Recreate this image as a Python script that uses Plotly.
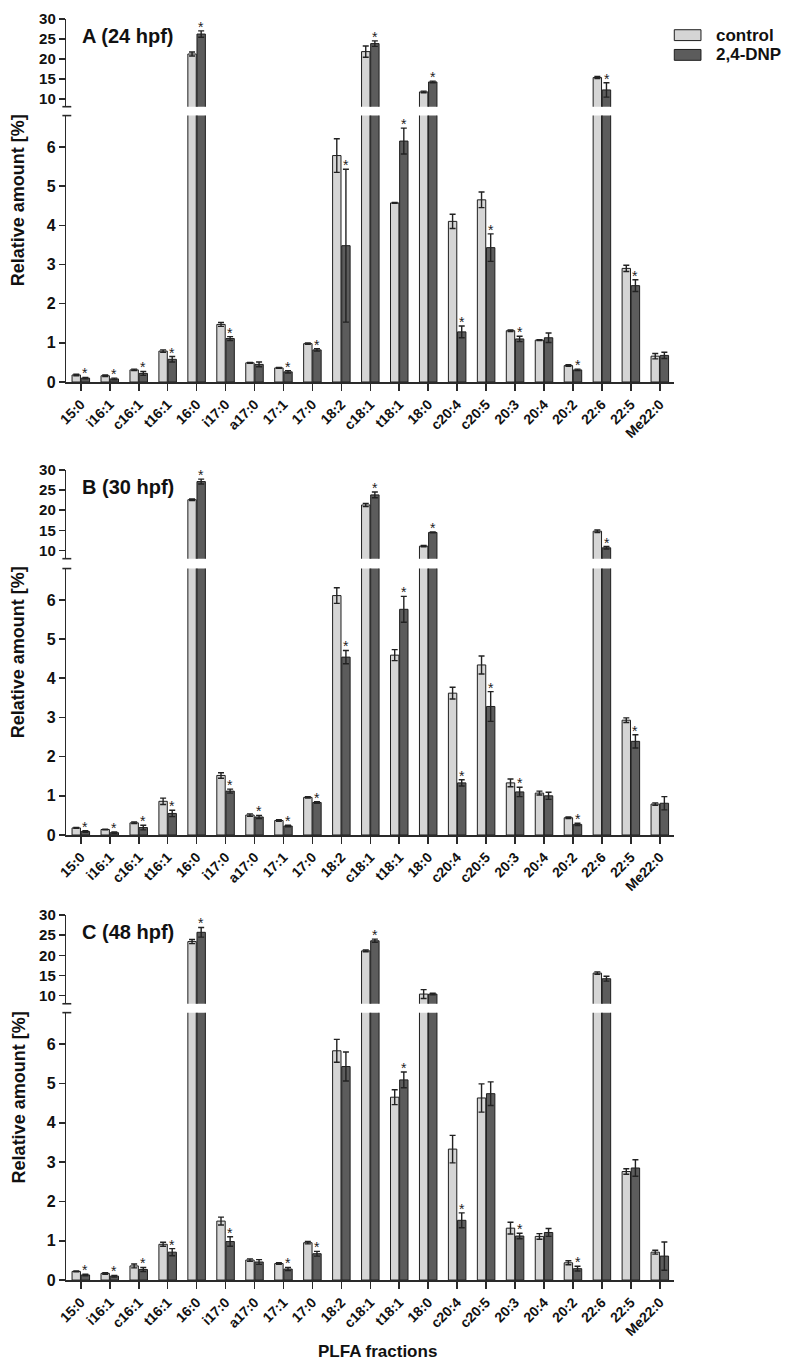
import plotly.graph_objects as go

categories = ["15:0", "i16:1", "c16:1", "t16:1", "16:0", "i17:0", "a17:0", "17:1", "17:0", "18:2",
              "c18:1", "t18:1", "18:0", "c20:4", "c20:5", "20:3", "20:4", "20:2", "22:6", "22:5", "Me22:0"]

# Panel A (24 hpf)
a_control = [0.18, 0.16, 0.31, 0.79, 21.2, 1.47, 0.49, 0.36, 0.98, 5.78, 21.8, 4.57, 11.7, 4.10, 4.65, 1.31, 1.07, 0.42, 15.3, 2.90, 0.66]
a_control_err = [0.02, 0.02, 0.02, 0.03, 0.5, 0.05, 0.01, 0.01, 0.02, 0.43, 1.4, 0.01, 0.2, 0.18, 0.2, 0.02, 0.01, 0.02, 0.25, 0.08, 0.07]
a_dnp = [0.10, 0.08, 0.22, 0.58, 26.2, 1.11, 0.45, 0.26, 0.82, 3.48, 23.8, 6.15, 14.2, 1.28, 3.43, 1.10, 1.13, 0.31, 12.2, 2.46, 0.68]
a_dnp_err = [0.02, 0.02, 0.05, 0.07, 0.8, 0.05, 0.06, 0.03, 0.03, 1.95, 0.7, 0.33, 0.2, 0.15, 0.35, 0.07, 0.12, 0.02, 1.8, 0.15, 0.08]
a_sig = [1, 1, 1, 1, 1, 1, 0, 1, 1, 1, 1, 1, 1, 1, 1, 1, 0, 1, 1, 1, 0]

# Panel B (30 hpf)
b_control = [0.18, 0.14, 0.31, 0.86, 22.6, 1.52, 0.51, 0.37, 0.96, 6.11, 21.3, 4.59, 11.1, 3.62, 4.34, 1.33, 1.07, 0.44, 14.8, 2.93, 0.79]
b_control_err = [0.01, 0.01, 0.02, 0.08, 0.2, 0.07, 0.03, 0.02, 0.02, 0.2, 0.4, 0.14, 0.15, 0.15, 0.23, 0.1, 0.05, 0.02, 0.3, 0.06, 0.03]
b_dnp = [0.09, 0.06, 0.19, 0.55, 27.1, 1.12, 0.46, 0.23, 0.83, 4.54, 23.8, 5.76, 14.5, 1.33, 3.28, 1.10, 1.00, 0.27, 10.7, 2.39, 0.81]
b_dnp_err = [0.02, 0.02, 0.06, 0.08, 0.6, 0.05, 0.04, 0.02, 0.02, 0.17, 0.7, 0.33, 0.1, 0.08, 0.38, 0.12, 0.09, 0.03, 0.3, 0.17, 0.17]
b_sig = [1, 1, 1, 1, 1, 1, 1, 1, 1, 1, 1, 1, 1, 1, 1, 1, 0, 1, 1, 1, 0]

# Panel C (48 hpf)
c_control = [0.22, 0.17, 0.36, 0.91, 23.4, 1.50, 0.51, 0.42, 0.95, 5.83, 21.1, 4.65, 10.4, 3.33, 4.63, 1.32, 1.11, 0.44, 15.6, 2.76, 0.71]
c_control_err = [0.01, 0.02, 0.05, 0.05, 0.5, 0.1, 0.03, 0.02, 0.03, 0.29, 0.2, 0.19, 1.1, 0.35, 0.36, 0.15, 0.07, 0.05, 0.3, 0.07, 0.05]
c_dnp = [0.13, 0.10, 0.27, 0.71, 25.7, 0.98, 0.46, 0.28, 0.67, 5.43, 23.6, 5.09, 10.4, 1.52, 4.74, 1.12, 1.21, 0.29, 14.2, 2.85, 0.61]
c_dnp_err = [0.02, 0.02, 0.05, 0.09, 1.2, 0.12, 0.06, 0.04, 0.06, 0.37, 0.4, 0.2, 0.2, 0.19, 0.3, 0.07, 0.1, 0.06, 0.6, 0.21, 0.36]
c_sig = [1, 1, 1, 1, 1, 1, 0, 1, 1, 0, 1, 1, 0, 1, 0, 1, 0, 1, 0, 0, 0]

panel_titles = ["A (24 hpf)", "B (30 hpf)", "C (48 hpf)"]
series_names = ["control", "2,4-DNP"]
lower_ticks = [0, 1, 2, 3, 4, 5, 6]
upper_ticks = [10, 15, 20, 25, 30]

W, H = 785, 1370
FONT = "Liberation Sans, Arial, sans-serif"
C_CTRL = "#d5d5d5"
C_DNP = "#5c5c5c"
EDGE = "#1e1e1e"
AX = "#2a2a2a"

def fy(p):
    return 1 - p / H

def fx(p):
    return p / W

X0, X1 = 58, 673
# (upper top, upper bottom, lower top, lower bottom) in px
panel_px = [(10, 99, 108, 378), (467, 557, 567, 837), (918, 1008, 1017, 1288)]
LOW_RANGE = [0, 6.8]
UP_RANGE = [8, 30]
BREAK = 8

panels = [
    (a_control, a_control_err, a_dnp, a_dnp_err, a_sig),
    (b_control, b_control_err, b_dnp, b_dnp_err, b_sig),
    (c_control, c_control_err, c_dnp, c_dnp_err, c_sig),
]

fig = go.Figure()
layout = {}
annotations = []
shapes = []

for p, (ctrl, ctrl_e, dnp, dnp_e, sig) in enumerate(panels):
    ut, ub, lt, lb = panel_px[p]
    low_i = 2 * p + 1
    up_i = 2 * p + 2
    for ax_i in (low_i, up_i):
        xa = "x" if ax_i == 1 else f"x{ax_i}"
        ya = "y" if ax_i == 1 else f"y{ax_i}"
        for name, vals, errs, col in ((series_names[0], ctrl, ctrl_e, C_CTRL), (series_names[1], dnp, dnp_e, C_DNP)):
            fig.add_trace(go.Bar(
                x=categories, y=vals, name=name, xaxis=xa, yaxis=ya,
                marker=dict(color=col, line=dict(color=EDGE, width=1)),
                error_y=dict(type="data", array=errs, visible=True, color="#222222", thickness=1.4, width=3),
                showlegend=False, offsetgroup=name, alignmentgroup=f"g{p}",
                hoverinfo="skip",
            ))
    lowx = "xaxis" if low_i == 1 else f"xaxis{low_i}"
    upx = f"xaxis{up_i}"
    lowy = "yaxis" if low_i == 1 else f"yaxis{low_i}"
    upy = f"yaxis{up_i}"
    xanchor_low = "x" if low_i == 1 else f"x{low_i}"
    layout[lowx] = dict(
        domain=[fx(X0), fx(X1)], anchor="y" if low_i == 1 else f"y{low_i}",
        type="category", range=[-0.5, len(categories) - 0.5],
        showline=True, linecolor=AX, linewidth=1.6, ticks="outside", ticklen=7, tickwidth=1.6, tickcolor=AX,
        tickangle=-45, tickfont=dict(family=FONT, size=14, color="#111", weight="bold"),
        showgrid=False, zeroline=False,
    )
    layout[upx] = dict(
        domain=[fx(X0), fx(X1)], anchor=f"y{up_i}", matches=xanchor_low,
        type="category", range=[-0.5, len(categories) - 0.5],
        showline=False, showticklabels=False, ticks="", showgrid=False, zeroline=False,
    )
    layout[lowy] = dict(
        domain=[fy(lb), fy(lt)], anchor=xanchor_low, range=LOW_RANGE,
        tickvals=lower_ticks, showline=True, linecolor=AX, linewidth=1.6,
        ticks="outside", ticklen=6, tickwidth=1.6, tickcolor=AX,
        tickfont=dict(family=FONT, size=16, color="#111", weight="bold"),
        showgrid=False, zeroline=False,
    )
    layout[upy] = dict(
        domain=[fy(ub), fy(ut)], anchor=f"x{up_i}", range=UP_RANGE,
        tickvals=upper_ticks, showline=True, linecolor=AX, linewidth=1.6,
        ticks="outside", ticklen=6, tickwidth=1.6, tickcolor=AX,
        tickfont=dict(family=FONT, size=15, color="#111", weight="bold"),
        showgrid=False, zeroline=False,
    )
    # break marks
    for yy in (ub, lt):
        shapes.append(dict(type="line", xref="paper", yref="paper",
                           x0=fx(X0 - 4), x1=fx(X0 + 5), y0=fy(yy), y1=fy(yy),
                           line=dict(color=AX, width=1.6)))
    # panel title
    annotations.append(dict(text=panel_titles[p], xref="paper", yref="paper",
                            x=fx(72), y=fy(ut + 4), xanchor="left", yanchor="top", showarrow=False,
                            font=dict(family=FONT, size=20, color="#111", weight="bold")))
    # y title
    annotations.append(dict(text="Relative amount [%]", xref="paper", yref="paper",
                            x=fx(10), y=fy((ut + lb) / 2), xanchor="center", yanchor="middle",
                            textangle=-90, showarrow=False,
                            font=dict(family=FONT, size=18, color="#111", weight="bold")))
    # significance asterisks
    for i, s in enumerate(sig):
        if not s:
            continue
        top = dnp[i] + dnp_e[i]
        ax_i = up_i if dnp[i] > BREAK else low_i
        annotations.append(dict(text="*", x=categories[i], y=top,
                                xref="x" if ax_i == 1 else f"x{ax_i}",
                                yref="y" if ax_i == 1 else f"y{ax_i}",
                                xshift=4.6, yshift=-6, yanchor="bottom", showarrow=False,
                                font=dict(family=FONT, size=14, color="#222")))

# legend drawn manually
leg = [(series_names[0], C_CTRL, 21, 32), (series_names[1], C_DNP, 41, 52)]
for name, col, y0, y1 in leg:
    shapes.append(dict(type="rect", xref="paper", yref="paper", x0=fx(673), x1=fx(700),
                       y0=fy(y1), y1=fy(y0), fillcolor=col, line=dict(color=EDGE, width=1)))
    annotations.append(dict(text=name, xref="paper", yref="paper", x=fx(713), y=fy((y0 + y1) / 2),
                            xanchor="left", yanchor="middle", showarrow=False,
                            font=dict(family=FONT, size=17, color="#111", weight="bold")))

annotations.append(dict(text="PLFA fractions", xref="paper", yref="paper", x=fx(373), y=fy(1360),
                        xanchor="center", yanchor="middle", showarrow=False,
                        font=dict(family=FONT, size=17, color="#111", weight="bold")))

fig.update_layout(
    width=W, height=H, autosize=False,
    margin=dict(l=0, r=0, t=0, b=0),
    paper_bgcolor="white", plot_bgcolor="white",
    barmode="group", bargap=0.37, bargroupgap=0.08,
    showlegend=False, hovermode=False,
    annotations=annotations, shapes=shapes,
    **layout,
)

fig.write_html("out.html", config={"displayModeBar": False, "staticPlot": True},
               post_script="document.body.style.margin='0px';document.body.style.padding='0px';")
